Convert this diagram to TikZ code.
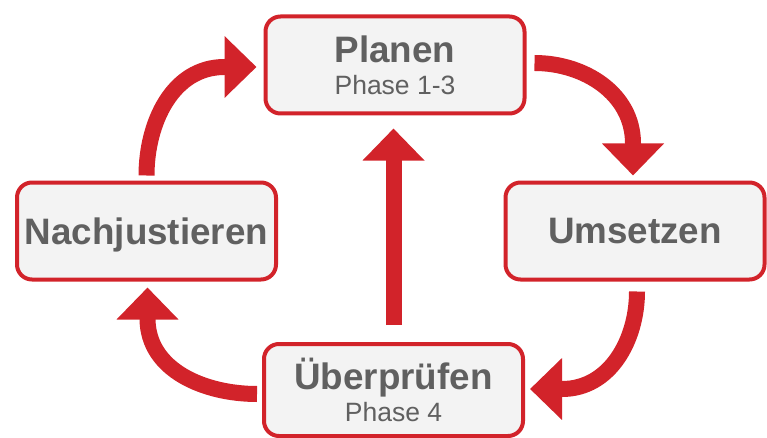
\documentclass[tikz,border=0pt]{standalone}
\usepackage{fontspec}
\setmainfont{Liberation Sans}
\usetikzlibrary{arrows.meta, positioning, calc}
\definecolor{zyklusrot}{HTML}{D2232A}
\definecolor{kastengrau}{HTML}{F3F3F3}
\definecolor{schriftgrau}{HTML}{606060}
\newcommand{\phasenr}[1]{{\fontsize{26.5}{32}\selectfont\mdseries #1}}
\tikzset{
    phase/.style={rectangle, rounded corners=15pt, draw=zyklusrot, line width=4pt,
        fill=kastengrau, minimum width=259pt, minimum height=97pt, inner sep=0pt,
        text=schriftgrau, align=center, font=\fontsize{36.8}{32}\selectfont\bfseries},
    flow/.style={draw=zyklusrot, line width=16pt, -{Triangle[width=60pt,length=32pt]}},
    textnode/.style={}}

\begin{document}
\begin{tikzpicture}[x=1pt, y=1pt]
\useasboundingbox (0,0) rectangle (767,437);

\node[phase] (plan)  at (395,372)   {Planen\\\phasenr{Phase 1-3}};
\node[phase] (act)   at (635,206)   {Umsetzen};
\node[phase, text depth=0pt] (just) at (146.5,206) {Nachjustieren};
\node[phase, minimum height=92pt] (check) at (393.5,47) {Überprüfen\\\phasenr{Phase 4}};

% Kreislauf
\draw[flow] ([xshift=8pt,yshift=2pt]plan.east) to[out=0,in=90]
    ([xshift=-2pt,yshift=37pt]act.north) -- ([xshift=-2pt,yshift=5pt]act.north);
\draw[flow] ([xshift=2pt,yshift=-10pt]act.south) to[out=-90,in=0]
    ([xshift=37pt,yshift=1pt]check.east) -- ([xshift=5pt,yshift=1pt]check.east);
\draw[flow] ([xshift=-5pt,yshift=-4pt]check.west) to[out=180,in=-90]
    ([xshift=1pt,yshift=-37pt]just.south) -- ([xshift=1pt,yshift=-6pt]just.south);
\draw[flow] ([yshift=5pt]just.north) to[out=90,in=180]
    ([xshift=-39pt,yshift=-2pt]plan.west) -- ([xshift=-7pt,yshift=-2pt]plan.west);

% Abkuerzung
\draw[flow] ([yshift=17pt]check.north) -- ([yshift=-13pt]check.north |- plan.south);
\end{tikzpicture}
\end{document}
